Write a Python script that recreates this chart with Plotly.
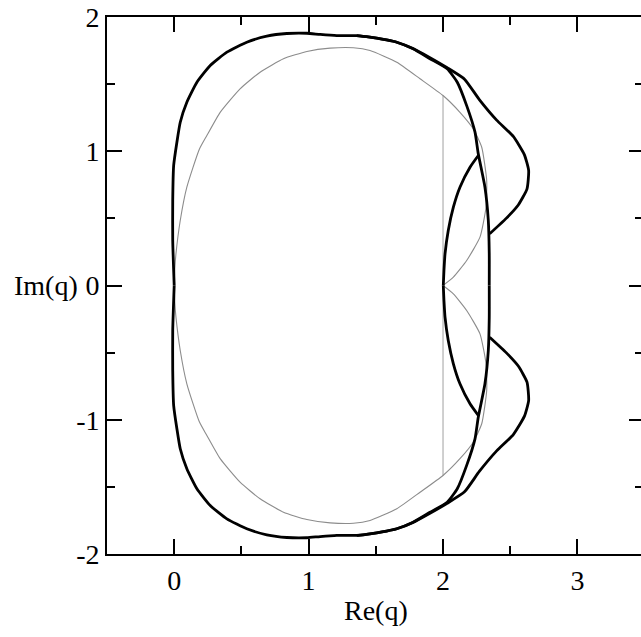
import plotly.graph_objects as go

# ---------------- data (Re(q), Im(q)) ----------------
# outer boundary, upper half (left -> right)
outer_up_re = [0.000, -0.011, -0.011, -0.004, 0.020, 0.045, 0.094, 0.169, 0.268, 0.392,
               0.540, 0.689, 0.838, 0.987, 1.086, 1.210, 1.358, 1.430, 1.507, 1.580,
               1.656, 1.777, 1.903, 2.031, 2.106, 2.176, 2.238, 2.262, 2.312, 2.337,
               2.344, 2.344]
outer_up_im = [0.000, 0.335, 0.633, 0.894, 1.067, 1.216, 1.365, 1.514, 1.639, 1.738,
               1.812, 1.857, 1.877, 1.879, 1.870, 1.862, 1.861, 1.853, 1.842, 1.829,
               1.812, 1.763, 1.689, 1.614, 1.514, 1.340, 1.142, 0.983, 0.732, 0.484,
               0.238, 0.000]
# outer boundary, lower half
outer_lo_re = [0.000, -0.011, -0.011, -0.004, 0.020, 0.045, 0.094, 0.169, 0.268, 0.392,
               0.540, 0.689, 0.838, 0.987, 1.086, 1.210, 1.358, 1.430, 1.507, 1.580,
               1.656, 1.777, 1.903, 2.031, 2.106, 2.176, 2.238, 2.262, 2.312, 2.337,
               2.344, 2.344]
outer_lo_im = [0.000, -0.335, -0.633, -0.894, -1.067, -1.216, -1.365, -1.514, -1.639, -1.738,
               -1.812, -1.857, -1.877, -1.879, -1.870, -1.862, -1.861, -1.853, -1.842, -1.829,
               -1.812, -1.763, -1.689, -1.614, -1.514, -1.340, -1.142, -0.983, -0.732, -0.484,
               -0.238, 0.000]

# outward bulges (leave the outer boundary near the top, rejoin it near |Im q| = 0.39)
bulge_up_re = [1.358, 1.430, 1.507, 1.580, 1.656, 1.777, 1.903, 2.031, 2.160, 2.270,
               2.399, 2.523, 2.605, 2.637, 2.625, 2.560, 2.470, 2.347]
bulge_up_im = [1.861, 1.853, 1.842, 1.829, 1.812, 1.765, 1.697, 1.622, 1.537, 1.385,
               1.232, 1.110, 0.975, 0.857, 0.720, 0.600, 0.500, 0.385]
bulge_lo_re = [1.358, 1.430, 1.507, 1.580, 1.656, 1.777, 1.903, 2.031, 2.160, 2.270,
               2.399, 2.523, 2.605, 2.637, 2.625, 2.560, 2.470, 2.347]
bulge_lo_im = [-1.861, -1.853, -1.842, -1.829, -1.812, -1.765, -1.697, -1.622, -1.537, -1.385,
               -1.232, -1.110, -0.975, -0.857, -0.720, -0.600, -0.500, -0.385]

# inner arcs from q = 2
arc_up_re = [2.002, 2.007, 2.015, 2.039, 2.077, 2.126, 2.201, 2.264]
arc_up_im = [0.000, 0.112, 0.236, 0.410, 0.583, 0.732, 0.881, 0.970]
arc_lo_re = [2.002, 2.007, 2.015, 2.039, 2.077, 2.126, 2.201, 2.264]
arc_lo_im = [0.000, -0.112, -0.236, -0.410, -0.583, -0.732, -0.881, -0.970]

# thin grey curve
grey_up_re = [0.000, 0.004, 0.013, 0.045, 0.094, 0.187, 0.243, 0.342, 0.490, 0.639,
              0.813, 0.987, 1.160, 1.333, 1.457, 1.656, 1.829, 2.000, 2.126, 2.225,
              2.288, 2.325, 2.320, 2.275, 2.176, 2.077, 2.000]
grey_up_im = [0.000, 0.120, 0.236, 0.484, 0.732, 1.015, 1.117, 1.290, 1.465, 1.589,
              1.689, 1.743, 1.768, 1.771, 1.750, 1.663, 1.540, 1.415, 1.290, 1.167,
              1.030, 0.782, 0.583, 0.360, 0.186, 0.062, 0.000]
grey_lo_re = [0.000, 0.004, 0.013, 0.045, 0.094, 0.187, 0.243, 0.342, 0.490, 0.639,
              0.813, 0.987, 1.160, 1.333, 1.457, 1.656, 1.829, 2.000, 2.126, 2.225,
              2.288, 2.325, 2.320, 2.275, 2.176, 2.077, 2.000]
grey_lo_im = [0.000, -0.120, -0.236, -0.484, -0.732, -1.015, -1.117, -1.290, -1.465, -1.589,
              -1.689, -1.743, -1.768, -1.771, -1.750, -1.663, -1.540, -1.415, -1.290, -1.167,
              -1.030, -0.782, -0.583, -0.360, -0.186, -0.062, 0.000]

# grey vertical segment Re(q) = 2
seg_re = [2.0, 2.0]
seg_im = [-1.415, 1.415]

x_ticks = [0, 1, 2, 3]
x_ticktext = ["0", "1", "2", "3"]
x_minor = [-0.5, 0.5, 1.5, 2.5, 3.5]
y_ticks = [-2, -1, 0, 1, 2]
y_ticktext = ["-2", "-1", "0", "1", "2"]
y_minor = [-1.5, -0.5, 0.5, 1.5]

# ---------------- figure ----------------
fig = go.Figure()

grey = dict(color="#8c8c8c", width=1.1, shape="spline", smoothing=0.5)
black = dict(color="black", width=2.8, shape="spline", smoothing=0.5)

fig.add_trace(go.Scatter(x=seg_re, y=seg_im, mode="lines",
                         line=dict(color="#b0b0b0", width=1.2)))
for xs, ys in [(grey_up_re, grey_up_im), (grey_lo_re, grey_lo_im)]:
    fig.add_trace(go.Scatter(x=xs, y=ys, mode="lines", line=grey))
for xs, ys in [(outer_up_re, outer_up_im), (outer_lo_re, outer_lo_im),
               (bulge_up_re, bulge_up_im), (bulge_lo_re, bulge_lo_im),
               (arc_up_re, arc_up_im), (arc_lo_re, arc_lo_im)]:
    fig.add_trace(go.Scatter(x=xs, y=ys, mode="lines", line=black))

# invisible trace to carry the right-hand tick axis
fig.add_trace(go.Scatter(x=[0], y=[0], yaxis="y2", mode="lines",
                         line=dict(width=0), opacity=0, hoverinfo="skip"))

font = dict(family="Liberation Serif", size=28, color="black")

fig.update_layout(
    width=641, height=637,
    margin=dict(l=107, r=0, t=17, b=83, autoexpand=False),
    paper_bgcolor="white", plot_bgcolor="white",
    showlegend=False,
    xaxis=dict(range=[-0.5, 3.473], showgrid=False, zeroline=False,
               showline=True, linecolor="black", linewidth=1.8, mirror="ticks",
               ticks="inside", ticklen=15, tickwidth=1.5, tickcolor="black",
               tickmode="array", tickvals=x_ticks, ticktext=x_ticktext,
               minor=dict(tickmode="array", tickvals=x_minor, ticks="inside",
                          ticklen=8, tickwidth=1.5, tickcolor="black"),
               tickfont=font, ticklabeloverflow="allow", automargin=False),
    yaxis=dict(range=[-2, 2], showgrid=False, zeroline=False,
               showline=True, linecolor="black", linewidth=1.8,
               ticks="inside", ticklen=15, tickwidth=1.5, tickcolor="black",
               tickmode="array", tickvals=y_ticks, ticktext=y_ticktext,
               minor=dict(tickmode="array", tickvals=y_minor, ticks="inside",
                          ticklen=8, tickwidth=1.5, tickcolor="black"),
               tickfont=font, ticklabeloverflow="allow", automargin=False),
    yaxis2=dict(range=[-2, 2], overlaying="y", side="right", showgrid=False,
                zeroline=False, showline=False, showticklabels=False,
                automargin=False,
                ticks="inside", ticklen=12, tickwidth=1.5, tickcolor="black",
                tickmode="array", tickvals=y_ticks,
                minor=dict(tickmode="array", tickvals=y_minor, ticks="inside",
                           ticklen=6, tickwidth=1.5, tickcolor="black")),
    annotations=[
        dict(text="Im(q)", xref="paper", yref="y", x=-0.05, y=0.0,
             xanchor="right", yanchor="middle", showarrow=False, font=font),
        dict(text="Re(q)", xref="x", yref="paper", x=1.5, y=-0.106,
             xanchor="center", yanchor="middle", showarrow=False, font=font),
    ],
)

# remove the browser's default 8px page margin so the figure fills the window
fig.write_html("out.html",
               config={"displayModeBar": False},
               post_script="document.body.style.margin='0';"
                           "document.body.style.overflow='hidden';")
